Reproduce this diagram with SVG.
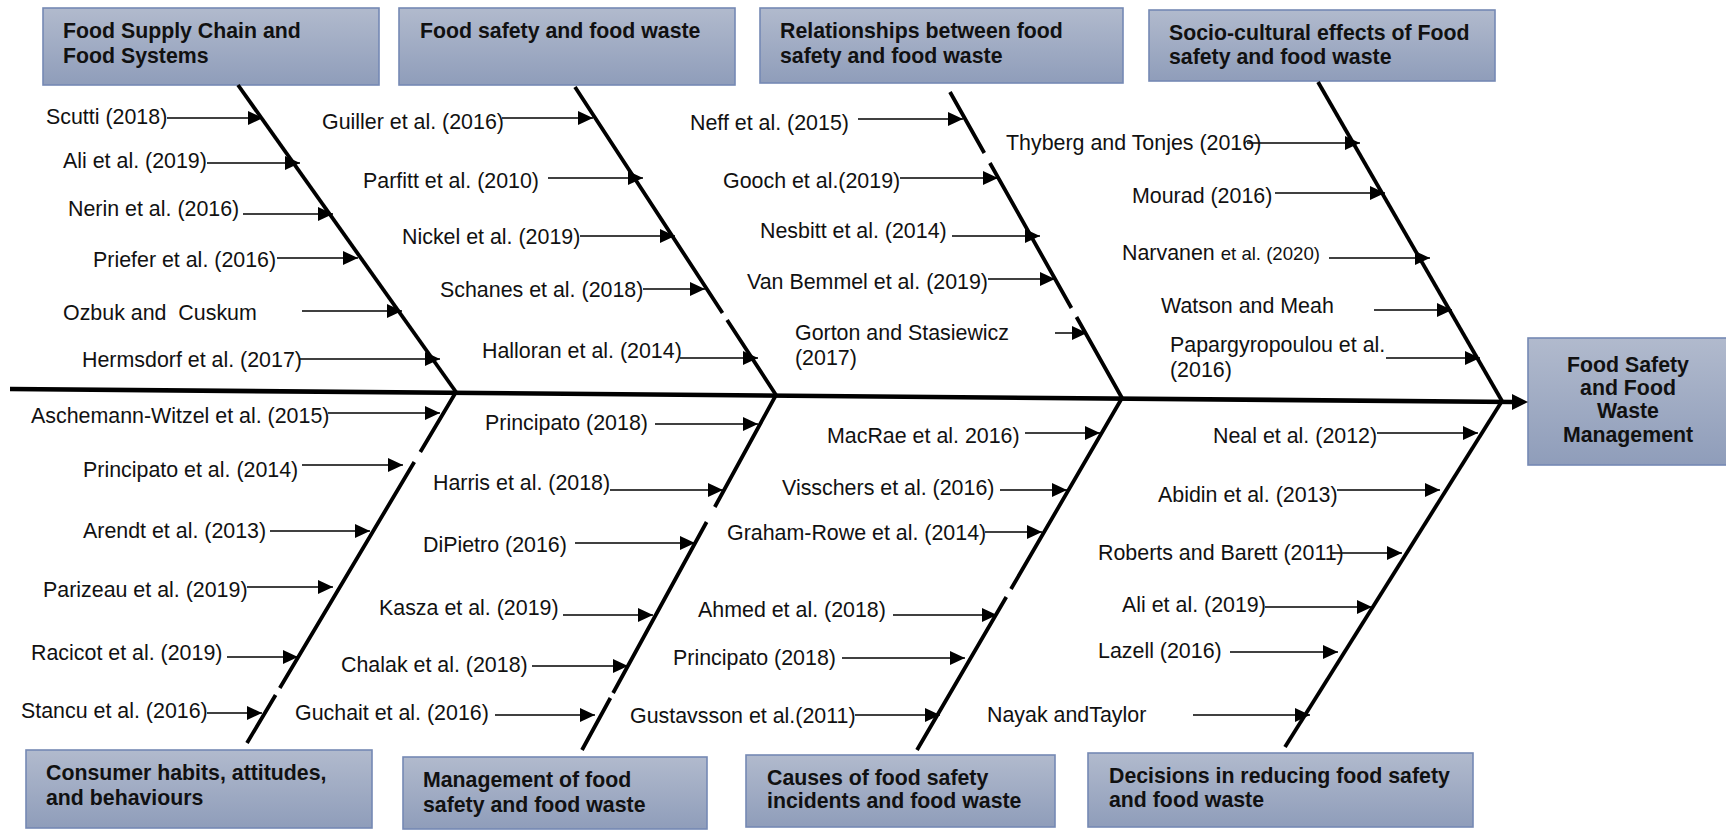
<svg xmlns="http://www.w3.org/2000/svg" width="1726" height="830" viewBox="0 0 1726 830">
  <defs>
    <linearGradient id="boxFill" x1="0" y1="0" x2="0" y2="1">
      <stop offset="0" stop-color="#b1bacd"/>
      <stop offset="1" stop-color="#8f9dba"/>
    </linearGradient>
    <marker id="tip" markerUnits="userSpaceOnUse" markerWidth="16" markerHeight="15" refX="15" refY="7" orient="auto">
      <path d="M0,0 L15,7 L0,14 Z" fill="#000"/>
    </marker>
  </defs>
  <style>
    .box { fill: url(#boxFill); stroke: #7589b4; stroke-width: 1.6; }
    .title { font-family: "Liberation Sans", Arial, sans-serif; font-weight: bold; font-size: 21.3px; fill: #111; }
    .ref { font-family: "Liberation Sans", Arial, sans-serif; font-size: 21.4px; fill: #111; }
    .small { font-size: 18.6px; }
    .spine { stroke: #000; stroke-width: 4.6; fill: none; }
    .bone { stroke: #000; stroke-width: 3.8; fill: none; }
    .arr { stroke: #000; stroke-width: 1.5; fill: none; marker-end: url(#tip); }
  </style>
  <rect width="1726" height="830" fill="#fff"/>

  <!-- category boxes -->
  <g id="cat-supply-chain">
    <rect class="box" x="43" y="8" width="336" height="77"/>
    <text class="title" x="63" y="38">Food Supply Chain and</text>
    <text class="title" x="63" y="63">Food Systems</text>
  </g>
  <g id="cat-safety-waste">
    <rect class="box" x="399" y="8" width="336" height="77"/>
    <text class="title" x="420" y="38">Food safety and food waste</text>
  </g>
  <g id="cat-relationships">
    <rect class="box" x="760" y="8" width="363" height="75"/>
    <text class="title" x="780" y="38">Relationships between food</text>
    <text class="title" x="780" y="63">safety and food waste</text>
  </g>
  <g id="cat-socio-cultural">
    <rect class="box" x="1149" y="10" width="346" height="71"/>
    <text class="title" x="1169" y="40">Socio-cultural effects of Food</text>
    <text class="title" x="1169" y="64">safety and food waste</text>
  </g>
  <g id="cat-consumer">
    <rect class="box" x="26" y="750" width="346" height="78"/>
    <text class="title" x="46" y="780">Consumer habits, attitudes,</text>
    <text class="title" x="46" y="805">and behaviours</text>
  </g>
  <g id="cat-management">
    <rect class="box" x="403" y="757" width="304" height="72"/>
    <text class="title" x="423" y="787">Management of food</text>
    <text class="title" x="423" y="812">safety and food waste</text>
  </g>
  <g id="cat-causes">
    <rect class="box" x="746" y="755" width="309" height="72"/>
    <text class="title" x="767" y="785">Causes of food safety</text>
    <text class="title" x="767" y="808">incidents and food waste</text>
  </g>
  <g id="cat-decisions">
    <rect class="box" x="1088" y="753" width="385" height="74"/>
    <text class="title" x="1109" y="783">Decisions in reducing food safety</text>
    <text class="title" x="1109" y="807">and food waste</text>
  </g>
  <g id="outcome">
    <rect class="box" x="1528" y="338" width="200" height="127"/>
    <text class="title" x="1628" y="372" text-anchor="middle">Food Safety</text>
    <text class="title" x="1628" y="395" text-anchor="middle">and Food</text>
    <text class="title" x="1628" y="418" text-anchor="middle">Waste</text>
    <text class="title" x="1628" y="442" text-anchor="middle">Management</text>
  </g>

  <!-- connectors: spine, bones and citation arrows -->
  <g id="connectors">
    <line class="spine" x1="10" y1="389" x2="1514" y2="402"/>
    <polygon points="1528,402 1512,394 1512,410" fill="#000"/>

    <path class="bone" d="M238,85 L456,392"/>
    <path class="bone" d="M575,87 L722.5,313 M727.1,320 L776,395"/>
    <path class="bone" d="M950,92 L984.3,153 M989.9,163 L1071.4,308 M1076.5,317 L1122,398"/>
    <path class="bone" d="M1318,82 L1502,401"/>
    <path class="bone" d="M456,392 L420.3,452 M414.3,462 L279.8,688 M275.6,695 L247,743"/>
    <path class="bone" d="M776,395 L714.8,507 M706.6,522 L613.1,693 M610.4,698 L582,750"/>
    <path class="bone" d="M1122,398 L1011,589 M1006.3,597 L917,750"/>
    <path class="bone" d="M1502,401 L1285,747"/>

    <!-- branch 1 -->
    <line class="arr" x1="167" y1="118" x2="263" y2="118"/>
    <line class="arr" x1="207" y1="163" x2="300" y2="163"/>
    <line class="arr" x1="243" y1="214" x2="333" y2="214"/>
    <line class="arr" x1="277" y1="258" x2="358" y2="258"/>
    <line class="arr" x1="302" y1="311" x2="402" y2="311"/>
    <line class="arr" x1="300" y1="359" x2="440" y2="359"/>
    <!-- branch 2 -->
    <line class="arr" x1="502" y1="118" x2="593" y2="118"/>
    <line class="arr" x1="548" y1="178" x2="643" y2="178"/>
    <line class="arr" x1="580" y1="236" x2="675" y2="236"/>
    <line class="arr" x1="643" y1="289" x2="705" y2="289"/>
    <line class="arr" x1="680" y1="358" x2="758" y2="358"/>
    <!-- branch 3 -->
    <line class="arr" x1="858" y1="119" x2="963" y2="119"/>
    <line class="arr" x1="900" y1="178" x2="998" y2="178"/>
    <line class="arr" x1="952" y1="236" x2="1040" y2="236"/>
    <line class="arr" x1="988" y1="279" x2="1055" y2="279"/>
    <line class="arr" x1="1055" y1="333" x2="1087" y2="333"/>
    <!-- branch 4 -->
    <line class="arr" x1="1247" y1="143" x2="1360" y2="143"/>
    <line class="arr" x1="1275" y1="193" x2="1385" y2="193"/>
    <line class="arr" x1="1329" y1="258" x2="1430" y2="258"/>
    <line class="arr" x1="1374" y1="310" x2="1452" y2="310"/>
    <line class="arr" x1="1386" y1="358" x2="1480" y2="358"/>
    <!-- branch 5 -->
    <line class="arr" x1="328" y1="413" x2="440" y2="413"/>
    <line class="arr" x1="302" y1="465" x2="403" y2="465"/>
    <line class="arr" x1="270" y1="531" x2="370" y2="531"/>
    <line class="arr" x1="247" y1="587" x2="333" y2="587"/>
    <line class="arr" x1="227" y1="657" x2="298" y2="657"/>
    <line class="arr" x1="207" y1="713" x2="262" y2="713"/>
    <!-- branch 6 -->
    <line class="arr" x1="655" y1="424" x2="758" y2="424"/>
    <line class="arr" x1="610" y1="490" x2="723" y2="490"/>
    <line class="arr" x1="575" y1="543" x2="695" y2="543"/>
    <line class="arr" x1="563" y1="615" x2="653" y2="615"/>
    <line class="arr" x1="532" y1="666" x2="628" y2="666"/>
    <line class="arr" x1="495" y1="715" x2="595" y2="715"/>
    <!-- branch 7 -->
    <line class="arr" x1="1025" y1="433" x2="1100" y2="433"/>
    <line class="arr" x1="1000" y1="490" x2="1067" y2="490"/>
    <line class="arr" x1="985" y1="532" x2="1042" y2="532"/>
    <line class="arr" x1="893" y1="615" x2="997" y2="615"/>
    <line class="arr" x1="842" y1="658" x2="965" y2="658"/>
    <line class="arr" x1="855" y1="715" x2="940" y2="715"/>
    <!-- branch 8 -->
    <line class="arr" x1="1377" y1="433" x2="1478" y2="433"/>
    <line class="arr" x1="1337" y1="490" x2="1440" y2="490"/>
    <line class="arr" x1="1330" y1="553" x2="1402" y2="553"/>
    <line class="arr" x1="1265" y1="607" x2="1372" y2="607"/>
    <line class="arr" x1="1230" y1="652" x2="1338" y2="652"/>
    <line class="arr" x1="1193" y1="715" x2="1310" y2="715"/>
  </g>

  <!-- citation labels -->
  <g id="refs-supply-chain" class="ref">
    <text x="46" y="124">Scutti (2018)</text>
    <text x="63" y="168">Ali et al. (2019)</text>
    <text x="68" y="216">Nerin et al. (2016)</text>
    <text x="93" y="267">Priefer et al. (2016)</text>
    <text x="63" y="320" xml:space="preserve">Ozbuk and  Cuskum</text>
    <text x="82" y="367">Hermsdorf et al. (2017)</text>
  </g>
  <g id="refs-safety-waste" class="ref">
    <text x="322" y="129">Guiller et al. (2016)</text>
    <text x="363" y="188">Parfitt et al. (2010)</text>
    <text x="402" y="244">Nickel et al. (2019)</text>
    <text x="440" y="297">Schanes et al. (2018)</text>
    <text x="482" y="358">Halloran et al. (2014)</text>
  </g>
  <g id="refs-relationships" class="ref">
    <text x="690" y="130">Neff et al. (2015)</text>
    <text x="723" y="188">Gooch et al.(2019)</text>
    <text x="760" y="238">Nesbitt et al. (2014)</text>
    <text x="747" y="289">Van Bemmel et al. (2019)</text>
    <text x="795" y="340">Gorton and Stasiewicz</text>
    <text x="795" y="365">(2017)</text>
  </g>
  <g id="refs-socio-cultural" class="ref">
    <text x="1006" y="150">Thyberg and Tonjes (2016)</text>
    <text x="1132" y="203">Mourad (2016)</text>
    <text x="1122" y="260">Narvanen <tspan class="small">et al. (2020)</tspan></text>
    <text x="1161" y="313">Watson and Meah</text>
    <text x="1170" y="352">Papargyropoulou et al.</text>
    <text x="1170" y="377">(2016)</text>
  </g>
  <g id="refs-consumer" class="ref">
    <text x="31" y="423">Aschemann-Witzel et al. (2015)</text>
    <text x="83" y="477">Principato et al. (2014)</text>
    <text x="83" y="538">Arendt et al. (2013)</text>
    <text x="43" y="597">Parizeau et al. (2019)</text>
    <text x="31" y="660">Racicot et al. (2019)</text>
    <text x="21" y="718">Stancu et al. (2016)</text>
  </g>
  <g id="refs-management" class="ref">
    <text x="485" y="430">Principato (2018)</text>
    <text x="433" y="490">Harris et al. (2018)</text>
    <text x="423" y="552">DiPietro (2016)</text>
    <text x="379" y="615">Kasza et al. (2019)</text>
    <text x="341" y="672">Chalak et al. (2018)</text>
    <text x="295" y="720">Guchait et al. (2016)</text>
  </g>
  <g id="refs-causes" class="ref">
    <text x="827" y="443">MacRae et al. 2016)</text>
    <text x="782" y="495">Visschers et al. (2016)</text>
    <text x="727" y="540">Graham-Rowe et al. (2014)</text>
    <text x="698" y="617">Ahmed et al. (2018)</text>
    <text x="673" y="665">Principato (2018)</text>
    <text x="630" y="723">Gustavsson et al.(2011)</text>
  </g>
  <g id="refs-decisions" class="ref">
    <text x="1213" y="443">Neal et al. (2012)</text>
    <text x="1158" y="502">Abidin et al. (2013)</text>
    <text x="1098" y="560">Roberts and Barett (2011)</text>
    <text x="1122" y="612">Ali et al. (2019)</text>
    <text x="1098" y="658">Lazell (2016)</text>
    <text x="987" y="722">Nayak andTaylor</text>
  </g>
</svg>
